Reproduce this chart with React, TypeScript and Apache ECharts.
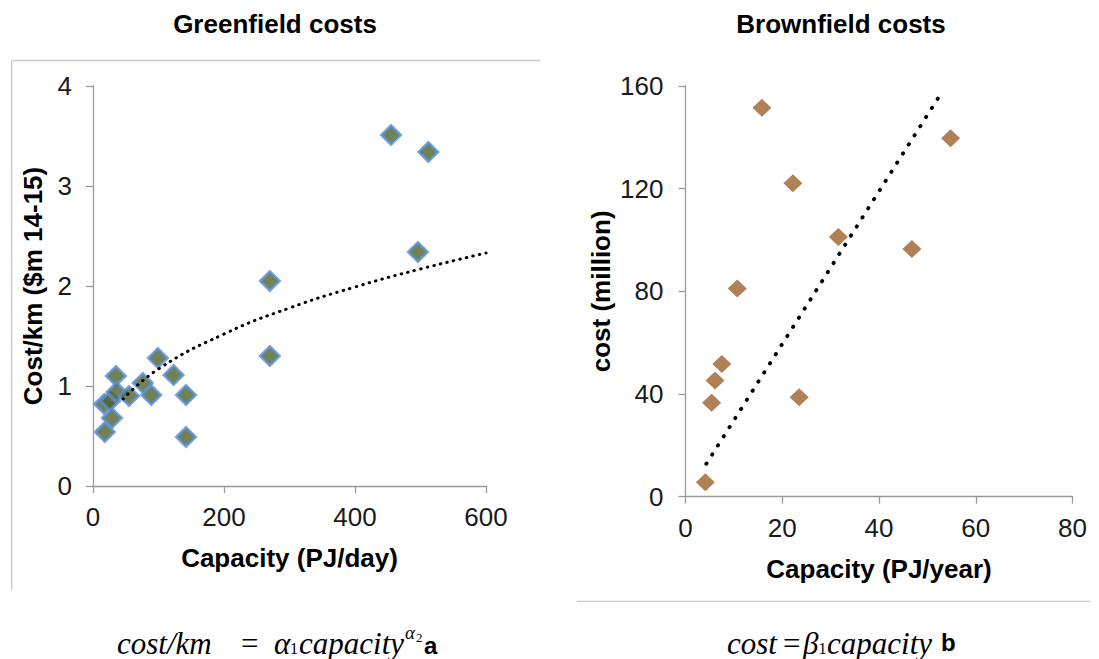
import React, { useEffect, useRef } from "react";
import * as echarts from "echarts";

// Greenfield (left) scatter: capacity PJ/day vs cost/km ($m 14-15)
const greenCapacity = [17, 18, 26, 29, 35, 36, 55, 76, 89, 99, 123, 142, 142, 270, 270, 455, 496, 512];
const greenCost = [0.82, 0.54, 0.85, 0.68, 1.1, 0.94, 0.9, 1.03, 0.91, 1.28, 1.11, 0.91, 0.49, 2.05, 1.3, 3.51, 2.34, 3.34];
// Greenfield power trend line
const greenTrendCapacity = [46, 100, 200, 300, 400, 500, 600];
const greenTrendCost = [0.87, 1.17, 1.52, 1.78, 1.99, 2.17, 2.33];

// Brownfield (right) scatter: capacity PJ/year vs cost (million)
const brownCapacity = [4.1, 5.4, 6.1, 7.5, 10.7, 15.8, 22.2, 23.5, 31.6, 46.8, 54.8];
const brownCost = [5.6, 36.6, 45.3, 51.7, 81.1, 151.5, 122.1, 38.7, 101.2, 96.5, 139.6];
// Brownfield linear trend line
const brownTrendCapacity = [4.3, 53.3];
const brownTrendCost = [12.8, 158.5];

// Axis ranges: [min, max, interval]
const greenXAxisRange = [0, 600, 200];
const greenYAxisRange = [0, 4, 1];
const brownXAxisRange = [0, 80, 20];
const brownYAxisRange = [0, 160, 40];

const titles = ["Greenfield costs", "Brownfield costs"];
const xNames = ["Capacity (PJ/day)", "Capacity (PJ/year)"];
const yNames = ["Cost/km ($m 14-15)", "cost (million)"];

const SANS = "'Liberation Sans', Arial, sans-serif";
const SERIF = "'Liberation Serif', 'Times New Roman', serif";
const AXIS_GRAY = "#9a9a9a";
const FRAME_GRAY = "#c8c8c8";

function zip(a: number[], b: number[]) {
  return a.map((v, i) => [v, b[i]]);
}

function makeAxis(
  gridIndex: number,
  range: number[],
  name: string,
  nameGap: number,
  labelMargin: number,
  isY: boolean
) {
  return {
    gridIndex,
    type: "value",
    min: range[0],
    max: range[1],
    interval: range[2],
    name,
    nameLocation: "middle",
    nameGap,
    nameRotate: isY ? 90 : 0,
    nameTextStyle: {
      fontFamily: SANS,
      fontSize: 26,
      fontWeight: "bold",
      color: "#000",
    },
    axisLine: { show: true, onZero: false, lineStyle: { color: AXIS_GRAY, width: 1.3 } },
    axisTick: { show: true, length: 7, lineStyle: { color: AXIS_GRAY, width: 1.3 } },
    splitLine: { show: false },
    axisLabel: {
      fontFamily: SANS,
      fontSize: 26,
      color: "#1a1a1a",
      margin: labelMargin,
    },
  };
}

function txt(
  text: string,
  x: number,
  y: number,
  fontSize: number,
  opts: { italic?: boolean; bold?: boolean; family?: string; align?: string } = {}
) {
  return {
    type: "text",
    x,
    y,
    silent: true,
    style: {
      text,
      fill: "#000",
      fontFamily: opts.family || SERIF,
      fontSize,
      fontStyle: opts.italic ? "italic" : "normal",
      fontWeight: opts.bold ? "bold" : "normal",
      textAlign: opts.align || "left",
      verticalAlign: "middle",
      textVerticalAlign: "middle",
    },
  };
}

export default function App() {
  const ref = useRef<HTMLDivElement>(null);

  useEffect(() => {
    if (!ref.current) return;
    const chart = echarts.init(ref.current, undefined, { renderer: "svg" });

    const option = {
      animation: false,
      backgroundColor: "#ffffff",
      grid: [
        { left: 93, top: 86, width: 393, height: 400 },
        { left: 685.5, top: 86, width: 387, height: 410.7 },
      ],
      xAxis: [
        makeAxis(0, greenXAxisRange, xNames[0], 59, 18, false),
        makeAxis(1, brownXAxisRange, xNames[1], 59, 18, false),
      ],
      yAxis: [
        makeAxis(0, greenYAxisRange, yNames[0], 47, 21, true),
        makeAxis(1, brownYAxisRange, yNames[1], 72, 22, true),
      ],
      series: [
        {
          type: "scatter",
          xAxisIndex: 0,
          yAxisIndex: 0,
          symbol: "diamond",
          symbolSize: 19,
          itemStyle: { color: "#4f6228", borderColor: "#5a8fd4", borderWidth: 3 },
          data: zip(greenCapacity, greenCost),
        },
        {
          type: "line",
          xAxisIndex: 0,
          yAxisIndex: 0,
          smooth: true,
          symbol: "none",
          showSymbol: false,
          lineStyle: { color: "#000", width: 3, type: [0.5, 6.2], cap: "round" },
          data: zip(greenTrendCapacity, greenTrendCost),
        },
        {
          type: "scatter",
          xAxisIndex: 1,
          yAxisIndex: 1,
          symbol: "diamond",
          symbolSize: [19, 18],
          itemStyle: { color: "#9c602c" },
          data: zip(brownCapacity, brownCost),
        },
        {
          type: "line",
          xAxisIndex: 1,
          yAxisIndex: 1,
          symbol: "none",
          showSymbol: false,
          lineStyle: { color: "#000", width: 3.8, type: [0.5, 10.3], cap: "round" },
          data: zip(brownTrendCapacity, brownTrendCost),
        },
      ],
      graphic: [
        // partial frames of the two pasted charts
        { type: "line", silent: true, shape: { x1: 11.7, y1: 60.5, x2: 540.7, y2: 60.5 }, style: { stroke: FRAME_GRAY, lineWidth: 1.3 } },
        { type: "line", silent: true, shape: { x1: 11.7, y1: 60.5, x2: 11.7, y2: 590 }, style: { stroke: FRAME_GRAY, lineWidth: 1.3 } },
        { type: "line", silent: true, shape: { x1: 576.7, y1: 601.3, x2: 1090, y2: 601.3 }, style: { stroke: FRAME_GRAY, lineWidth: 1.3 } },
        // titles
        txt(titles[0], 275, 23.5, 26, { bold: true, family: SANS, align: "center" }),
        txt(titles[1], 841, 23.5, 26, { bold: true, family: SANS, align: "center" }),
        // formula a
        txt("cost/km", 117, 643, 31, { italic: true }),
        txt("=", 241, 643, 31),
        txt("α", 274, 643, 31, { italic: true }),
        txt("1", 290, 648, 16),
        txt("capacity", 299, 643, 31, { italic: true }),
        txt("α", 405, 632, 19, { italic: true }),
        txt("2", 416, 637, 13),
        txt("a", 424, 645, 24, { bold: true, family: SANS }),
        // formula b
        txt("cost", 727, 643, 31, { italic: true }),
        txt("=", 783, 643, 31),
        txt("β", 803, 643, 31, { italic: true }),
        txt("1", 818.5, 648, 16),
        txt("capacity", 827, 643, 31, { italic: true }),
        txt("b", 941, 642, 24, { bold: true, family: SANS }),
      ],
    };

    chart.setOption(option as any);
    return () => {
      chart.dispose();
    };
  }, []);

  return (
    <div
      ref={ref}
      style={{ position: "fixed", left: 0, top: 0, width: 1099, height: 659, background: "#fff" }}
    />
  );
}
